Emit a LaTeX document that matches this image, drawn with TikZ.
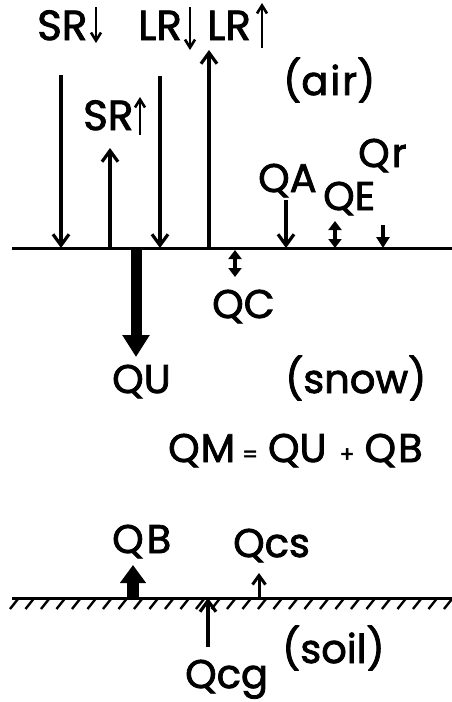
\documentclass[tikz,border=0pt]{standalone}
\usepackage{fontspec}
\setmainfont{Poppins}[FakeBold=2]
\usetikzlibrary{arrows.meta}
\newcommand\opsize{\fontsize{22}{22}\selectfont}
\begin{document}
\begin{tikzpicture}[x=1pt,y=-1pt,
  lab/.style={font=\fontsize{40}{40}\selectfont, inner sep=0pt, anchor=base west},
  big/.style={font=\fontsize{42}{42}\selectfont},
  flux/.style={line width=3.2pt, -{Straight Barb[length=11pt,width=16pt,line width=3.2pt]}},
  tag/.style={line width=2.6pt, -{Straight Barb[length=8pt,width=10pt,line width=2.6pt]}},
  small/.style={line width=3.5pt, -{Triangle[length=11pt,width=13pt]}},
  both/.style={line width=3.5pt, {Triangle[length=9pt,width=13pt]}-{Triangle[length=9pt,width=13pt]}},
  bulk/.style={line width=11pt, -{Triangle[length=22pt,width=26pt]}},
  surface/.style={line width=3pt}]
\useasboundingbox (0,0) rectangle (452,702);

% ---- surfaces ----
\coordinate (sl) at (12,248);  \coordinate (sr) at (452,248);
\coordinate (gl) at (12,598);  \coordinate (gr) at (452,598);
\draw[surface] (sl) -- (sr);
\draw[surface] (gl) -- (gr);
\foreach \x in {10,25.5,...,445} \draw[line width=2.4pt] (\x,609) -- (\x+8,599);

% ---- labels ----
\node[lab,big] (srd) at (37,40) {SR};
\node[lab,big] (lrd) at (138,40) {LR};
\node[lab,big] (lru) at (207,40) {LR};
\node[lab,big] (sru) at (83,130) {SR};
\node[lab] (air) at (283,95) {(a\kern2pt i\kern2pt r)};
\node[lab] (qa) at (258,192) {QA};
\node[lab] (qe) at (323,210) {QE};
\node[lab] (qr) at (358,167) {Q\kern2pt r};
\node[lab] (qc) at (212,318) {QC};
\node[lab] (qu) at (112,393) {QU};
\node[lab] (snow) at (285,393) {(snow)};
\node[lab] (qm) at (168,462) {Q\kern1pt M\kern7pt{\opsize=}\kern10pt QU\kern13pt{\opsize+}\kern10pt Q\kern2pt B};
\node[lab] (qb) at (112,553) {Q\kern3pt B};
\node[lab] (qcs) at (233,557) {Qcs};
\node[lab] (qcg) at (185,688) {Qcg};
\node[lab] (soil) at (282,663) {(soil)};

% ---- direction marks beside the radiation labels ----
\draw[tag] (96,7) -- (96,43);
\draw[tag] (190,7) -- (190,50);
\draw[tag] (262,48) -- (262,3);
\draw[tag] (140,135) -- (140,97);

% ---- radiation fluxes at the snow surface ----
\coordinate (a1) at (61,75);   \coordinate (s1) at (61,248);
\coordinate (s2) at (110,248); \coordinate (a2) at (110,148);
\coordinate (a3) at (160,76);  \coordinate (s3) at (160,248);
\coordinate (s4) at (209,248); \coordinate (a4) at (209,50);
\draw[flux] (a1) -- (s1);
\draw[flux] (s2) -- (a2);
\draw[flux] (a3) -- (s3);
\draw[flux] (s4) -- (a4);

% ---- turbulent and rain fluxes ----
\coordinate (s5) at (286,248); \coordinate (a5) at (286,200);
\draw[flux] (a5) -- (s5);
\draw[both] (335,221) -- (335,248);
\draw[small] (383,225) -- (383,248);

% ---- conduction and storage in the snow ----
\draw[both] (235,250) -- (235,277);
\draw[bulk] (136,248) -- (136,357);

% ---- fluxes at the soil surface ----
\draw[line width=12pt, -{Triangle[length=18pt,width=25pt]}] (133,598) -- (133,565);
\draw[line width=3pt, -{Straight Barb[length=9pt,width=13pt,line width=3pt]}] (259,598) -- (259,573);
\draw[flux] (208,647) -- (208,598);
\end{tikzpicture}
\end{document}
